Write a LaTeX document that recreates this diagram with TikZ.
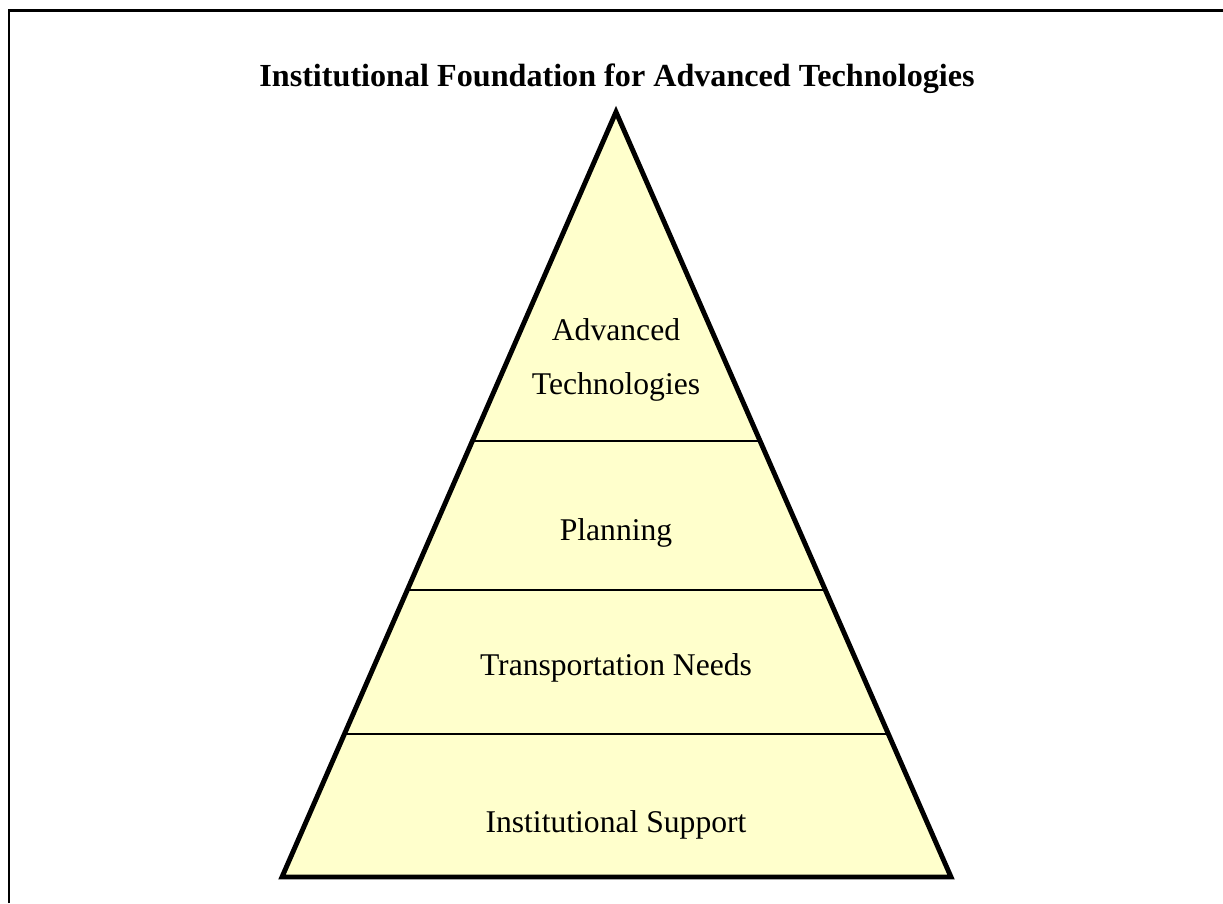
\documentclass[tikz,border=0pt]{standalone}
\usepackage{fontspec}
\setmainfont{Liberation Serif}
\usetikzlibrary{calc}
\definecolor{paleyellow}{HTML}{FFFFCC}

\begin{document}
\begin{tikzpicture}[x=0.02cm,y=-0.02cm,
  tier/.style={font=\fontsize{18}{30.6}\selectfont,align=center,inner sep=0pt},
  divider/.style={line width=0.8pt}]
  \useasboundingbox (0,0) rectangle (1223,903);
  % frame
  \draw[line width=1.2pt] (9,903) -- (9,10.5) -- (1223,10.5);
  \node[font=\bfseries\fontsize{18.3}{22}\selectfont,anchor=base,inner sep=0pt] (title) at (617,86) {Institutional Foundation for Advanced Technologies};
  % pyramid corners
  \coordinate (apex) at (616,112);
  \coordinate (bl) at (282,877);
  \coordinate (br) at (951,877);
  \fill[paleyellow] (apex) -- (bl) -- (br) -- cycle;
  \draw[divider] ($(apex)!0.430!(bl)$) -- ($(apex)!0.430!(br)$);
  \draw[divider] ($(apex)!0.625!(bl)$) -- ($(apex)!0.625!(br)$);
  \draw[divider] ($(apex)!0.813!(bl)$) -- ($(apex)!0.813!(br)$);
  \draw[line width=2.8pt,line join=miter] (apex) -- (bl) -- (br) -- cycle;
  % tier labels
  \node[tier] (tech) at (616,360) {Advanced\\Technologies};
  \node[tier,anchor=base] (plan) at (616,540) {Planning};
  \node[tier,anchor=base] (needs) at (616,675) {Transportation Needs};
  \node[tier,anchor=base] (support) at (616,832) {Institutional Support};
\end{tikzpicture}
\end{document}
